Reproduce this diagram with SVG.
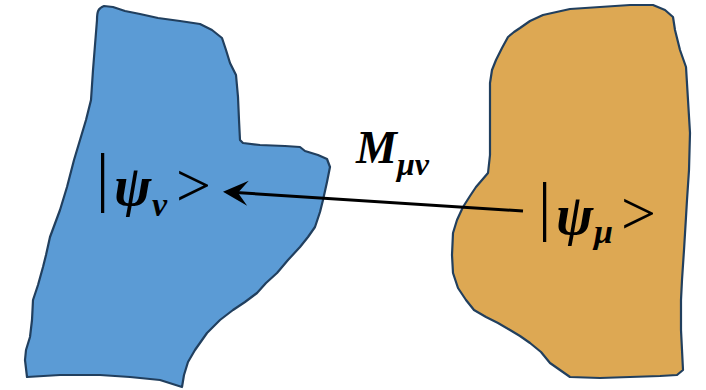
<svg xmlns="http://www.w3.org/2000/svg" width="706" height="390" viewBox="0 0 706 390">
<style>
.blob{stroke:#213F5E;stroke-width:2.2;stroke-linejoin:round}
.bi{font-family:"Liberation Serif","DejaVu Serif",serif;font-weight:bold;font-style:italic;fill:#000}
.thin{font-family:"Liberation Serif","DejaVu Serif",serif;fill:#000}
</style>
<defs>
<marker id="head" viewBox="-26 -13 27 26" refX="-5" refY="0" markerWidth="27" markerHeight="26" markerUnits="userSpaceOnUse" orient="auto">
<path d="M0,0 L-25,-12.5 L-15,0 L-25,12.5 Z" fill="#000"/>
</marker>
</defs>
<g id="node-nu">
<path class="blob" fill="#5B9BD5" d="M104,6 C98,8 97,12 97,20 L95,45 L93,70 L91,100 L86,120 L80,140 L74,160 L67,187 L60,210 L50,237 L46,255 L43,267 L38,285 L33,300 L32,320 L30,337 L26,350 L25,360 L27,377 L60,375 L100,375 L130,377 L160,380 L182,387 L184,375 L188,362 L195,350 L207,333 L220,320 L233,310 L245,302 L257,293 L266,283 L277,273 L288,260 L300,247 L308,237 L315,227 L320,212 L323,200 L327,182 L330,167 L327,159 L318,155 L305,151 L300,147 L285,146 L260,145 L243,143 L240,140 L239,120 L238,97 L236,75 L230,63 L226,50 L222,38 L212,30 L200,24 L180,21 L158,18 L140,14 L125,11 L113,7 Z"/>
</g>
<g id="node-mu">
<path class="blob" fill="#DDA853" d="M543,15 L570,9 L600,7 L630,5 L653,5 L665,10 L673,17 L675,30 L680,50 L686,67 L688,100 L690,133 L689,170 L687,200 L686,217 L684,250 L682,280 L681,300 L681,330 L682,350 L683,370 L677,375 L660,376 L630,377 L600,378 L570,377 L560,370 L550,363 L541,352 L530,343 L520,336 L510,330 L498,323 L486,317 L474,310 L466,300 L458,288 L453,273 L452,255 L453,233 L457,220 L463,207 L470,196 L476,187 L482,180 L488,173 L490,155 L490,133 L490,110 L490,83 L492,70 L496,60 L502,48 L508,37 L514,32 L520,28 L530,21 Z"/>
</g>
<g id="connectors">
<line x1="523" y1="211" x2="228" y2="192" stroke="#000" stroke-width="3" marker-end="url(#head)"/>
</g>
<g id="labels">
<text class="thin" x="96" y="199" font-size="66">|</text>
<text class="bi" x="114" y="205" font-size="56">ψ</text>
<text class="bi" x="152" y="216" font-size="34" font-style="normal">ν</text>
<text class="thin" x="176" y="206" font-size="62">&gt;</text>
<text class="thin" x="538" y="228" font-size="66">|</text>
<text class="bi" x="556" y="234" font-size="56">ψ</text>
<text class="bi" x="594" y="243" font-size="34">μ</text>
<text class="thin" x="621" y="234" font-size="62">&gt;</text>
<text class="bi" x="356" y="163" font-size="46">M</text>
<text class="bi" x="397" y="175" font-size="32">μν</text>
</g>
</svg>
